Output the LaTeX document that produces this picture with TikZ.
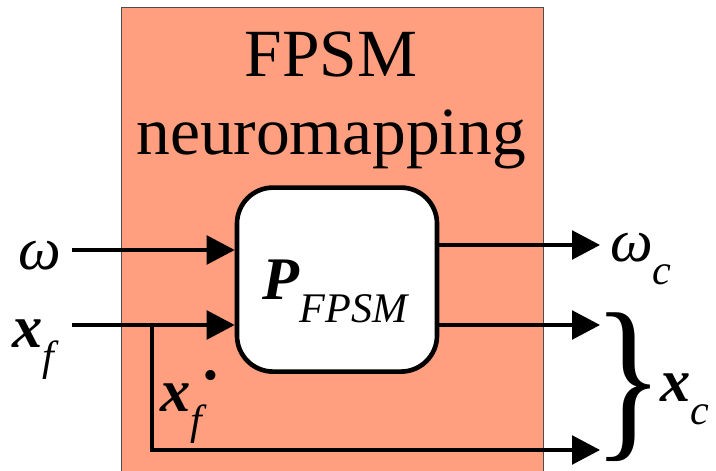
\documentclass[tikz,border=0pt]{standalone}
\usepackage{fontspec}
\setmainfont{Liberation Serif}
\usetikzlibrary{positioning,arrows.meta}

\definecolor{panelfill}{RGB}{255,159,127}
\newcommand{\bvec}[1]{\textbf{\textit{#1}}}
\newcommand{\lowsub}[1]{\raisebox{-16pt}{\fontsize{30pt}{30pt}\selectfont\itshape #1}}

\begin{document}
\begin{tikzpicture}[
  panel/.style={draw=black!70, line width=0.8pt, fill=panelfill,
                inner sep=0pt},
  mapBox/.style={draw, fill=white, line width=3.3pt, rounded corners=0.9cm,
                 minimum width=5cm, minimum height=4.6cm, inner sep=0pt},
  sigLine/.style={line width=2.2pt},
  sigArrow/.style={sigLine, -{Triangle[length=0.7cm,width=0.72cm]}},
  bigLabel/.style={font=\fontsize{43pt}{48pt}\selectfont, inner sep=0pt,
                   anchor=base west},
  titleText/.style={font=\fontsize{48pt}{56pt}\selectfont, inner sep=0pt,
                    anchor=base}
]
  \useasboundingbox (0,0) rectangle (17.9,11.75);

  % === Panel ===
  \node[panel, anchor=north west, minimum width=10.55cm,
        minimum height=12cm] (panel) at (3.025,11.575) {};
  \node[titleText] (title1) at (8.28,9.825) {FPSM};
  \node[titleText] (title2) at (8.28,7.875) {neuromapping};

  % === Mapping block ===
  \node[mapBox] (map) at (8.425,4.76) {};
  \node[bigLabel] (pLabel) at (6.55,4.25) {\bvec{P}\lowsub{FPSM}};

  % === Inputs ===
  \coordinate (wIn) at (1.8,5.5);
  \coordinate (xIn) at (1.8,3.625);
  \coordinate (xTap) at (3.8,3.625);
  \coordinate (xLow) at (3.8,0.5);
  \node[bigLabel] (wLabel) at (0.45,5.0) {\textit{ω}};
  \node[bigLabel] (xfLabel) at (0.3,3.05) {\bvec{x}\lowsub{f}};
  \node[bigLabel] (xdotLabel) at (4.0,1.45)
    {\bvec{x}\lowsub{f}\hspace{1pt}\raisebox{16pt}{\fontsize{30pt}{30pt}\selectfont •}};
  \draw[sigArrow] (wIn) -- (wIn -| map.west);
  \draw[sigArrow] (xIn) -- (xIn -| map.west);

  % === Outputs ===
  \coordinate (wOut) at (15.0,5.625);
  \coordinate (xOut) at (15.0,3.625);
  \coordinate (xDotOut) at (15.0,0.5);
  \draw[sigArrow] (map.east |- wOut) -- (wOut);
  \draw[sigArrow] (map.east |- xOut) -- (xOut);
  \draw[sigArrow] (xTap) -- (xLow) -- (xDotOut);
  \node[bigLabel] (wcLabel) at (15.25,5.2) {\textit{ω}\lowsub{c}};
  \node[bigLabel] (xcLabel) at (16.5,1.7) {\bvec{x}\lowsub{c}};
  \node[font=\fontsize{104pt}{104pt}\selectfont, inner sep=0pt] (brace)
    at (15.72,2.08) {\makebox[0pt]{\scalebox{1}[1.23]{\}}}};
\end{tikzpicture}
\end{document}
